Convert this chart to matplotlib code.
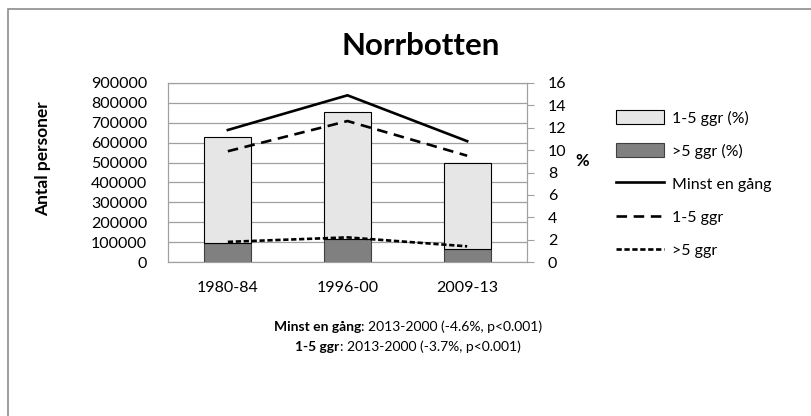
import matplotlib.pyplot as plt
from matplotlib.patches import Patch, Rectangle
from matplotlib.lines import Line2D

plt.rcParams['font.family'] = ['Lato', 'DejaVu Sans']

# data
perioder = ['1980-84', '1996-00', '2009-13']
over5_antal = [95000, 117000, 66000]          # >5 ggr, antal personer
ggr15_antal = [535000, 639000, 430000]        # 1-5 ggr, antal personer (on top)
minst_en_gang = [11.8, 14.9, 10.8]            # %
ggr15_proc = [9.9, 12.6, 9.5]                 # %
over5_proc = [1.8, 2.2, 1.4]                  # %

W, H = 811, 416
fig = plt.figure(figsize=(W / 100, H / 100), dpi=100)

# grey frame round the chart area (goes out of the picture right and bottom)
fig.patches.append(Rectangle((8 / W, -0.1), 1.2, 1 - 9 / H + 0.1, transform=fig.transFigure,
                             fill=False, edgecolor='#8c8c8c', linewidth=1.2))

ax = fig.add_axes([168 / W, (H - 262) / H, 359 / W, 179 / H])
x = range(len(perioder))
ax.bar(x, over5_antal, width=0.39, color='#808080', edgecolor='#404040', linewidth=0.8, zorder=3)
ax.bar(x, ggr15_antal, width=0.39, bottom=over5_antal, color='#e6e6e6', edgecolor='black',
       linewidth=0.8, zorder=3)
ax.set_ylim(0, 900000)
ax.set_yticks(range(0, 900001, 100000))
ax.set_xlim(-0.5, 2.5)
ax.set_xticks(list(x))
ax.set_xticklabels(perioder)
ax.grid(axis='y', color='#a0a0a0', linewidth=0.9, zorder=0)
ax.tick_params(axis='y', length=0, pad=15, labelsize=11.5)
ax.tick_params(axis='x', length=0, pad=14, labelsize=11.5)
for s in ax.spines.values():
    s.set_color('#a0a0a0')
ax.set_ylabel('Antal personer', fontweight='bold', fontsize=12.5)
ax.yaxis.set_label_coords(-0.325, 0.58)

ax2 = ax.twinx()
ax2.plot(x, minst_en_gang, color='black', linewidth=1.9, zorder=4)
ax2.plot(x, ggr15_proc, color='black', linewidth=1.9, dashes=(4, 2.5), zorder=4)
ax2.plot(x, over5_proc, color='black', linewidth=1.9, dashes=(2, 1), zorder=4)
ax2.set_ylim(0, 16)
ax2.set_yticks(range(0, 17, 2))
ax2.tick_params(axis='y', length=5, color='#a0a0a0', pad=10, labelsize=11.5)
for s in ax2.spines.values():
    s.set_color('#a0a0a0')
ax2.set_ylabel('%', fontweight='bold', fontsize=12, rotation=0)
ax2.yaxis.set_label_coords(1.155, 0.61)

fig.text(421 / W, 1 - 46 / H, 'Norrbotten', fontsize=22.5, fontweight='bold', ha='center', va='center')

handles = [
    Patch(facecolor='#e6e6e6', edgecolor='black', linewidth=0.8),
    Patch(facecolor='#808080', edgecolor='#404040', linewidth=0.8),
    Line2D([], [], color='black', linewidth=1.9),
    Line2D([], [], color='black', linewidth=1.9, dashes=(4, 2.5)),
    Line2D([], [], color='black', linewidth=1.9, dashes=(2, 1)),
]
labels = ['1-5 ggr (%)', '>5 ggr (%)', 'Minst en gång', '1-5 ggr', '>5 ggr']
fig.legend(handles, labels, loc='upper left', bbox_to_anchor=(602 / W, 1 - 96 / H),
           frameon=False, fontsize=11.5, handlelength=3.0, handleheight=0.9,
           handletextpad=0.5, labelspacing=1.12)

# trend notes below the chart, each line centred on x = 408 px
notes = [('Minst en gång', ': 2013-2000 (-4.6%, p<0.001)', 327),
         ('1-5 ggr', ': 2013-2000 (-3.7%, p<0.001)', 347)]
renderer = fig.canvas.get_renderer()
for fet, rest, ypx in notes:
    t1 = fig.text(0, 1 - ypx / H, fet, fontsize=10, fontweight='bold', ha='left', va='center')
    t2 = fig.text(0, 1 - ypx / H, rest, fontsize=10, ha='left', va='center')
    w1 = t1.get_window_extent(renderer).width
    w2 = t2.get_window_extent(renderer).width
    start = 408 - (w1 + w2) / 2
    t1.set_x(start / W)
    t2.set_x((start + w1) / W)

fig.savefig('out.png', dpi=100)
